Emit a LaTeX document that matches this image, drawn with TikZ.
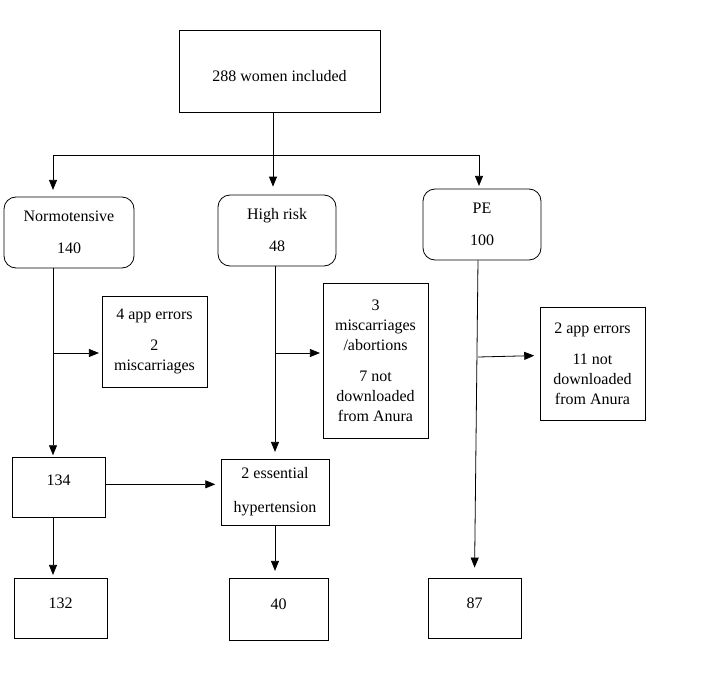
\documentclass[tikz,border=0pt]{standalone}
\usepackage{fontspec}
\setmainfont{Liberation Serif}
\usetikzlibrary{arrows.meta,positioning}

\begin{document}
\begin{tikzpicture}[x=0.75pt, y=-0.75pt, font=\fontsize{12}{15}\selectfont,
box/.style={draw, align=center, inner sep=0pt, line width=0.6pt},
group/.style={box, rounded corners=9pt},
line/.style={line width=0.6pt},
arrow/.style={-{Triangle[length=7.5pt, width=6pt]}, line width=0.6pt}]
\useasboundingbox (0,0) rectangle (715,696);
\node[box, minimum width=150.75pt, minimum height=61.5pt, text height=15.5pt] (top) at (279.5,71) {288 women included};
\node[group, minimum width=97.5pt, minimum height=53.25pt] (normo) at (69,232.5) {Normotensive\\[9pt]140};
\node[group, minimum width=88.5pt, minimum height=53.25pt] (highrisk) at (277,230.5) {High risk\\[9pt]48};
\node[group, minimum width=88.5pt, minimum height=53.25pt] (pe) at (482,224.5) {PE\\[9pt]100};
\node[box, minimum width=78.75pt, minimum height=68.25pt] (normoexcl) at (154.5,341.5) {4 app errors\\[8pt]2\\miscarriages};
\node[box, minimum width=78.75pt, minimum height=116.25pt] (highexcl) at (375.5,360.5) {3\\miscarriages\\/abortions\\[8pt]7 not\\downloaded\\from Anura};
\node[box, minimum width=78.75pt, minimum height=84.75pt] (peexcl) at (592.5,363.5) {2 app errors\\[8pt]11 not\\downloaded\\from Anura};
\node[box, minimum width=69.75pt, minimum height=45pt, text depth=10pt] (normomid) at (58.5,487) {134};
\node[box, minimum width=81pt, minimum height=49.5pt] (essential) at (275,492) {2 essential\\[10.5pt]hypertension};
\node[box, minimum width=69.75pt, minimum height=45pt, text depth=7.5pt] (normofinal) at (60.5,608) {132};
\node[box, minimum width=74.25pt, minimum height=46.5pt, text depth=7.5pt] (highfinal) at (278.5,609) {40};
\node[box, minimum width=69.75pt, minimum height=45pt, text depth=7.5pt] (pefinal) at (474.5,608) {87};
% split into the three groups
\coordinate (split) at (273,155);
\coordinate (splitA) at (53,155);
\coordinate (splitC) at (479,155);
\draw[line] (splitA) -- (splitC);
\draw[arrow, shorten >=6pt] (top.south -| split) -- (split |- highrisk.north);
\draw[arrow, shorten >=5pt] (splitA) -- (splitA |- normo.north);
\draw[arrow, shorten >=2pt] (splitC) -- (splitC |- pe.north);
% normotensive
\coordinate (normoturn) at (53,353);
\draw[arrow, shorten >=1pt] (splitA |- normo.south) -- (splitA |- normomid.north);
\draw[arrow, shorten >=2pt] (normoturn) -- (normoturn -| normoexcl.west);
\draw[arrow, shorten >=4pt] ([yshift=2pt]normomid.east) -- ([yshift=2pt]normomid.east -| essential.west);
\draw[arrow, shorten >=2pt] (splitA |- normomid.south) -- (splitA |- normofinal.north);
% high risk
\coordinate (highturn) at (275,353);
\draw[arrow, shorten >=5pt] (highturn |- highrisk.south) -- (highturn |- essential.north);
\draw[arrow, shorten >=2pt] (highturn) -- (highturn -| highexcl.west);
\draw[arrow, shorten >=5pt] (essential.south) -- (essential.south |- highfinal.north);
% PE
\coordinate (peturn) at (478,357);
\draw[arrow, shorten >=7.5pt] ([xshift=-3pt]pe.south) -- (pefinal.north);
\draw[arrow, shorten >=4pt] (peturn) -- ([yshift=6pt]peexcl.west);
\end{tikzpicture}
\end{document}
